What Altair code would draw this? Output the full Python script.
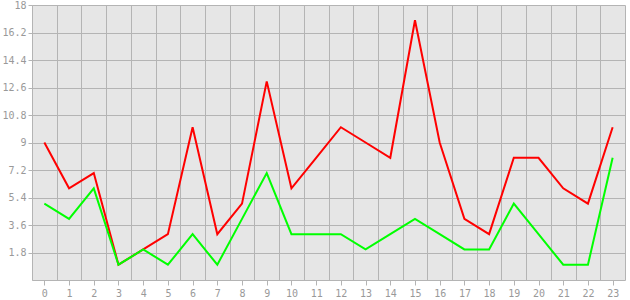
import altair as alt
import pandas as pd

hours = list(range(24))
red_values = [9, 6, 7, 1, 2, 3, 10, 3, 5, 13, 6, 8, 10, 9, 8, 17, 9, 4, 3, 8, 8, 6, 5, 10]
green_values = [5, 4, 6, 1, 2, 1, 3, 1, 4, 7, 3, 3, 3, 2, 3, 4, 3, 2, 2, 5, 3, 1, 1, 8]
y_ticks = [1.8, 3.6, 5.4, 7.2, 9, 10.8, 12.6, 14.4, 16.2, 18]

red_df = pd.DataFrame({"x": hours, "y": red_values})
green_df = pd.DataFrame({"x": hours, "y": green_values})

GRID = "#b4b4b4"
LABEL = "#999999"
FONT = "DejaVu Sans Mono"

xscale = alt.Scale(domain=[-0.5, 23.5], nice=False, zero=False)
yscale = alt.Scale(domain=[0, 18], nice=False)

label_axis = alt.Axis(
    values=hours, grid=False, title=None, orient="bottom",
    labelFont=FONT, labelFontSize=10, labelColor=LABEL,
    tickColor=GRID, tickSize=5, domainColor=GRID, labelPadding=3,
)
grid_axis = alt.Axis(
    values=[h - 0.5 for h in range(25)], grid=True, gridColor=GRID, gridOpacity=1,
    labels=False, ticks=False, domain=False, title=None, orient="bottom",
)
y_axis = alt.Axis(
    values=y_ticks, grid=True, gridColor=GRID, gridOpacity=1, title=None,
    labelFont=FONT, labelFontSize=10, labelColor=LABEL, format=".1~f",
    tickColor=GRID, tickSize=4, domainColor=GRID, labelPadding=2,
)

red = alt.Chart(red_df).mark_line(color="#ff0000", strokeWidth=2).encode(
    x=alt.X("x:Q", scale=xscale, axis=label_axis),
    y=alt.Y("y:Q", scale=yscale, axis=y_axis),
)
green = alt.Chart(green_df).mark_line(color="#00ff00", strokeWidth=2).encode(
    x=alt.X("x:Q", scale=xscale, axis=grid_axis),
    y=alt.Y("y:Q", scale=yscale, axis=y_axis),
)

chart = (
    alt.layer(green, red)
    .resolve_axis(x="independent")
    .properties(
        width=593, height=275,
        autosize=alt.AutoSizeParams(type="none"),
        padding={"left": 32, "top": 5, "right": 5, "bottom": 20},
        background="white",
    )
    .configure_view(fill="#e6e6e6", stroke=None)
)

# draw green on top of red: reorder layers
chart = (
    alt.layer(
        red.encode(x=alt.X("x:Q", scale=xscale, axis=label_axis)),
        green.encode(x=alt.X("x:Q", scale=xscale, axis=grid_axis)),
    )
    .resolve_axis(x="independent")
    .properties(
        width=593, height=275,
        autosize=alt.AutoSizeParams(type="none"),
        padding={"left": 32, "top": 5, "right": 5, "bottom": 20},
        background="white",
    )
    .configure_view(fill="#e6e6e6", stroke=None)
)

chart.save("out.html", embed_options={"renderer": "svg", "actions": False})
